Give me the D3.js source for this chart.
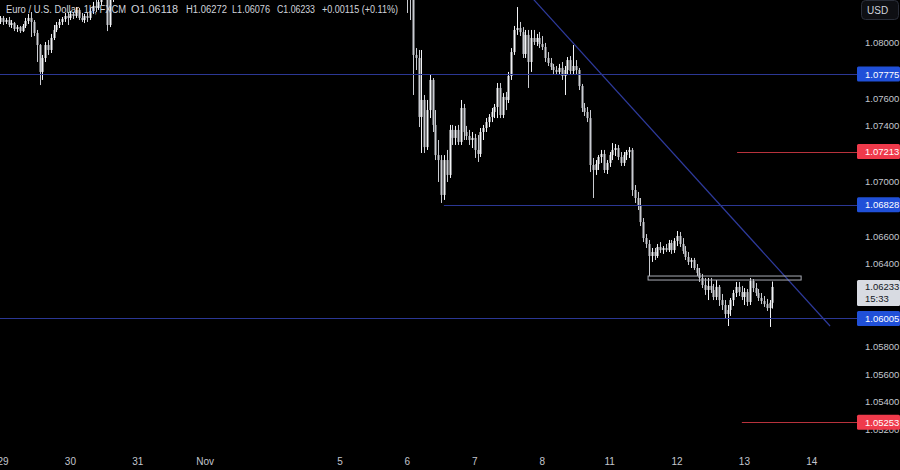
<!DOCTYPE html>
<html><head><meta charset="utf-8">
<script src="https://cdn.jsdelivr.net/npm/d3@7"></script>
<style>html,body{margin:0;padding:0;background:#000;}svg{display:block;}</style>
</head><body><svg id="c" width="900" height="470"></svg>
<script>
// ---------- DATA ----------
const dayLabels = ["29","30","31","Nov","5","6","7","8","11","12","13","14"];
const dayIndex  = [0,1,2,3,5,6,7,8,9,10,11,12];   // trading-day number (24 hourly bars each)
const priceTicks = [1.080,1.078,1.076,1.074,1.072,1.070,1.068,1.066,1.064,1.062,1.060,1.058,1.056,1.054,1.052];

// hourly candles [open, high, low, close]; first bar index of each block
const octStart = -1;
const octCandles = [
[1.08152,1.08195,1.08137,1.08181],[1.08181,1.08195,1.08130,1.08152],[1.08152,1.08181,1.08137,1.08166],
[1.08166,1.08188,1.08115,1.08130],[1.08130,1.08166,1.08108,1.08144],[1.08144,1.08152,1.08086,1.08101],
[1.08101,1.08130,1.08079,1.08115],[1.08115,1.08123,1.08072,1.08086],[1.08086,1.08137,1.08079,1.08123],
[1.08123,1.08181,1.08108,1.08159],[1.08159,1.08210,1.08137,1.08181],[1.08181,1.08224,1.08043,1.08152],
[1.08152,1.08166,1.08050,1.08072],[1.08072,1.08094,1.07862,1.07985],[1.07985,1.07992,1.07695,1.07790],
[1.07790,1.07913,1.07732,1.07891],[1.07891,1.08007,1.07862,1.07985],[1.07985,1.08021,1.07913,1.07949],
[1.07949,1.08065,1.07927,1.08036],[1.08036,1.08130,1.08021,1.08094],[1.08094,1.08152,1.08079,1.08130],
[1.08130,1.08173,1.08108,1.08152],[1.08152,1.08188,1.08130,1.08173],[1.08173,1.08217,1.08152,1.08195],
[1.08195,1.08224,1.08130,1.08181],[1.08181,1.08231,1.08166,1.08210],[1.08210,1.08224,1.08173,1.08195],
[1.08195,1.08260,1.08181,1.08239],[1.08239,1.08253,1.08166,1.08181],[1.08181,1.08217,1.08152,1.08166],
[1.08166,1.08210,1.08144,1.08195],[1.08195,1.08217,1.08152,1.08181],[1.08181,1.08253,1.08166,1.08231],
[1.08231,1.08297,1.08210,1.08268],[1.08268,1.08311,1.08224,1.08253],[1.08253,1.08347,1.08239,1.08297],
[1.08297,1.08383,1.08275,1.08347],[1.08347,1.08398,1.08311,1.08369],[1.08369,1.08398,1.08086,1.08130],
[1.08130,1.08383,1.08115,1.08347],[1.08347,1.08420,1.08297,1.08383]
];
const novStart = 144;
const novCandles = [
[1.08528,1.08601,1.08217,1.08383],[1.08383,1.08456,1.08166,1.08347],[1.08347,1.08383,1.07623,1.07913],
[1.07913,1.07963,1.07804,1.07891],[1.07891,1.07949,1.07391,1.07464],[1.07464,1.07949,1.07203,1.07587],
[1.07587,1.07623,1.07203,1.07246],[1.07246,1.07587,1.07225,1.07514],[1.07514,1.07768,1.07456,1.07732],
[1.07732,1.07746,1.07355,1.07406],[1.07406,1.07514,1.07152,1.07188],[1.07188,1.07297,1.06993,1.07152],
[1.07152,1.07188,1.06841,1.06899],[1.06899,1.07188,1.06863,1.07152],[1.07152,1.07225,1.06993,1.07044],
[1.07044,1.07406,1.07022,1.07370],[1.07370,1.07406,1.07261,1.07312],[1.07312,1.07399,1.07261,1.07370],
[1.07370,1.07406,1.07261,1.07283],[1.07283,1.07587,1.07261,1.07529],[1.07529,1.07558,1.07297,1.07355],
[1.07355,1.07399,1.07297,1.07326],[1.07326,1.07370,1.07261,1.07297],[1.07297,1.07355,1.07239,1.07312],
[1.07312,1.07341,1.07167,1.07225],[1.07225,1.07333,1.07138,1.07196],[1.07196,1.07384,1.07174,1.07355],
[1.07355,1.07406,1.07297,1.07384],[1.07384,1.07456,1.07355,1.07427],[1.07427,1.07485,1.07391,1.07464],
[1.07464,1.07529,1.07427,1.07500],[1.07500,1.07558,1.07456,1.07536],[1.07536,1.07710,1.07456,1.07674],
[1.07674,1.07710,1.07456,1.07478],[1.07478,1.07637,1.07456,1.07609],[1.07609,1.07645,1.07514,1.07587],
[1.07587,1.07790,1.07565,1.07761],[1.07761,1.07963,1.07732,1.07934],[1.07934,1.08123,1.07913,1.08094],
[1.08094,1.08260,1.08058,1.08108],[1.08108,1.08152,1.08050,1.08079],[1.08079,1.08115,1.07891,1.07920],
[1.07920,1.08094,1.07891,1.08058],[1.08058,1.08094,1.07674,1.07862],[1.07862,1.08094,1.07790,1.08036],
[1.08036,1.08094,1.07985,1.08007],[1.08007,1.08065,1.07978,1.08036],[1.08036,1.08079,1.07963,1.07992],
[1.07992,1.08050,1.07949,1.07971],[1.07971,1.08000,1.07862,1.07891],[1.07891,1.07934,1.07833,1.07855],
[1.07855,1.07891,1.07804,1.07826],[1.07826,1.07848,1.07775,1.07804],[1.07804,1.07833,1.07768,1.07790],
[1.07790,1.07848,1.07768,1.07819],[1.07819,1.07862,1.07732,1.07761],[1.07761,1.07833,1.07623,1.07804],
[1.07804,1.07898,1.07775,1.07876],[1.07876,1.07905,1.07775,1.07797],[1.07797,1.07985,1.07775,1.07833],
[1.07833,1.07876,1.07775,1.07804],[1.07804,1.07819,1.07659,1.07688],[1.07688,1.07703,1.07500,1.07529],
[1.07529,1.07565,1.07471,1.07500],[1.07500,1.07536,1.07427,1.07456],[1.07456,1.07514,1.07065,1.07116],
[1.07116,1.07167,1.06877,1.07080],[1.07080,1.07152,1.07044,1.07123],[1.07123,1.07188,1.07080,1.07174],
[1.07174,1.07225,1.07131,1.07196],[1.07196,1.07225,1.07058,1.07080],[1.07080,1.07152,1.07051,1.07131],
[1.07131,1.07210,1.07102,1.07188],[1.07188,1.07275,1.07152,1.07225],[1.07225,1.07268,1.07181,1.07239],
[1.07239,1.07261,1.07152,1.07174],[1.07174,1.07210,1.07109,1.07131],[1.07131,1.07210,1.07109,1.07188],
[1.07188,1.07225,1.07152,1.07210],[1.07210,1.07246,1.07167,1.07225],[1.07225,1.07239,1.06892,1.06935],
[1.06935,1.06971,1.06841,1.06877],[1.06877,1.06921,1.06790,1.06826],[1.06826,1.06877,1.06674,1.06703],
[1.06703,1.06732,1.06558,1.06587],[1.06587,1.06616,1.06515,1.06544],[1.06544,1.06573,1.06312,1.06457],
[1.06457,1.06515,1.06414,1.06486],[1.06486,1.06515,1.06428,1.06457],[1.06457,1.06544,1.06443,1.06522],
[1.06522,1.06558,1.06479,1.06500],[1.06500,1.06529,1.06472,1.06515],[1.06515,1.06544,1.06486,1.06500],
[1.06500,1.06573,1.06486,1.06551],[1.06551,1.06573,1.06472,1.06500],[1.06500,1.06587,1.06479,1.06566],
[1.06566,1.06638,1.06529,1.06602],[1.06602,1.06631,1.06522,1.06544],[1.06544,1.06587,1.06472,1.06493],
[1.06493,1.06529,1.06428,1.06450],[1.06450,1.06486,1.06392,1.06414],[1.06414,1.06443,1.06370,1.06428],
[1.06428,1.06443,1.06356,1.06370],[1.06370,1.06399,1.06312,1.06334],[1.06334,1.06370,1.06269,1.06298],
[1.06298,1.06327,1.06225,1.06247],[1.06247,1.06298,1.06175,1.06211],[1.06211,1.06298,1.06138,1.06240],
[1.06240,1.06298,1.06189,1.06211],[1.06211,1.06254,1.06138,1.06160],[1.06160,1.06283,1.06138,1.06233],
[1.06233,1.06247,1.06095,1.06138],[1.06138,1.06182,1.06066,1.06102],[1.06102,1.06138,1.06008,1.06037],
[1.06037,1.06102,1.05950,1.06066],[1.06066,1.06153,1.06023,1.06138],[1.06138,1.06211,1.06095,1.06189],
[1.06189,1.06269,1.06160,1.06233],[1.06233,1.06269,1.06167,1.06196],[1.06196,1.06240,1.06138,1.06160],
[1.06160,1.06225,1.06102,1.06196],[1.06196,1.06218,1.06095,1.06124],[1.06124,1.06298,1.06102,1.06276],
[1.06276,1.06290,1.06196,1.06225],[1.06225,1.06261,1.06167,1.06189],[1.06189,1.06218,1.06131,1.06153],
[1.06153,1.06189,1.06109,1.06131],[1.06131,1.06167,1.06088,1.06109],[1.06109,1.06146,1.06059,1.06080],
[1.06080,1.06138,1.05943,1.06118],[1.06118,1.06272,1.06076,1.06233]
];

// drawings
const blueLevels = [1.07775, 1.06828, 1.06005];
const blueLevelStart = [-3, 157, -3];
const redLevels = [1.07213, 1.05253];
const redLevelStart = [261.4, 263.1];
const trendLine = [[185, 1.08403], [294.5, 1.05950]];
const zoneBars = [229.7, 284.2];
const zonePrices = [1.06312, 1.06283];
const lastPrice = 1.06233;
const countdown = "15:33";
const headerName = "Euro / U.S. Dollar, 1h, FXCM";
const headerFields = ["O1.06118","H1.06272","L1.06076","C1.06233","+0.00115 (+0.11%)"];

// ---------- LAYOUT ----------
const W = 900, H = 470, plotR = 856, plotB = 450;
const svg = d3.select("#c");
svg.append("rect").attr("width",W).attr("height",H).attr("fill","#000");

const x = d3.scaleLinear().domain([0, 288]).range([3, 3 + 288*2.8083]);
const y = d3.scaleLinear().domain([1.05052, 1.08311]).range([plotB, 0]);

svg.append("clipPath").attr("id","plot").append("rect").attr("x",0).attr("y",0).attr("width",plotR).attr("height",plotB);
const g = svg.append("g").attr("clip-path","url(#plot)");

// candles
const bars = [];
octCandles.forEach((c,i)=>bars.push({i:octStart+i,o:c[0],h:c[1],l:c[2],c:c[3]}));
novCandles.forEach((c,i)=>bars.push({i:novStart+i,o:c[0],h:c[1],l:c[2],c:c[3]}));
const upCol = "#f2f3f6", dnCol = "#c9cbd1";
const cg = g.append("g");
cg.selectAll("line.w").data(bars).join("line")
  .attr("x1",d=>Math.round(x(d.i))+0.5).attr("x2",d=>Math.round(x(d.i))+0.5)
  .attr("y1",d=>y(d.h)).attr("y2",d=>y(d.l))
  .attr("stroke",d=>d.c>=d.o?upCol:dnCol).attr("stroke-width",1);
cg.selectAll("rect.b").data(bars).join("rect")
  .attr("x",d=>Math.round(x(d.i))-0.5).attr("width",2)
  .attr("y",d=>y(Math.max(d.o,d.c))).attr("height",d=>Math.max(1,Math.abs(y(d.o)-y(d.c))))
  .attr("fill",d=>d.c>=d.o?upCol:dnCol);

// horizontal levels
const lg = svg.append("g");
blueLevels.forEach((p,k)=>{
  lg.append("line").attr("x1",Math.max(0,x(blueLevelStart[k]))).attr("x2",plotR+2)
    .attr("y1",Math.round(y(p))+0.5).attr("y2",Math.round(y(p))+0.5)
    .attr("stroke","#2b3794").attr("stroke-width",1);
});
redLevels.forEach((p,k)=>{
  lg.append("line").attr("x1",x(redLevelStart[k])).attr("x2",plotR+2)
    .attr("y1",Math.round(y(p))+0.5).attr("y2",Math.round(y(p))+0.5)
    .attr("stroke","#b8323c").attr("stroke-width",1);
});
// trend line
g.append("line").attr("x1",x(trendLine[0][0])).attr("y1",y(trendLine[0][1]))
  .attr("x2",x(trendLine[1][0])).attr("y2",y(trendLine[1][1]))
  .attr("stroke","#2e3a9c").attr("stroke-width",1.2);
// resistance zone
g.append("rect").attr("x",x(zoneBars[0])).attr("y",y(zonePrices[0]))
  .attr("width",x(zoneBars[1])-x(zoneBars[0])).attr("height",y(zonePrices[1])-y(zonePrices[0]))
  .attr("fill","none").attr("stroke","#a9acb5").attr("stroke-width",1);

// ---------- PRICE AXIS ----------
const font = "'Liberation Sans', Arial, sans-serif";
const fmt = d3.format(".5f");
const ax = svg.append("g");
const tagged = blueLevels.concat([lastPrice, redLevels[0]]);
priceTicks.forEach(p=>{
  // labels fully hidden behind a price tag are not drawn (TradingView hides them)
  if (tagged.some(t=>Math.abs(y(t)-y(p))<9)) return;
  ax.append("text").attr("x",865).attr("y",y(p)+3.5).text(fmt(p))
    .attr("fill","#c3c6ce").attr("font-family",font).attr("font-size",9.5);
});
function tag(p, bg, fg){
  const yy = y(p);
  ax.append("rect").attr("x",857).attr("y",yy-7.5).attr("width",43).attr("height",15).attr("rx",1.5).attr("fill",bg);
  ax.append("text").attr("x",865).attr("y",yy+3.5).text(fmt(p))
    .attr("fill",fg).attr("font-family",font).attr("font-size",9.5);
}
blueLevels.forEach(p=>tag(p,"#2050d8","#ffffff"));
redLevels.forEach(p=>tag(p,"#ef3a4b","#ffffff"));
// last price box
{
  const yy = y(lastPrice);
  ax.append("rect").attr("x",857).attr("y",yy-7).attr("width",43).attr("height",26).attr("rx",1.5).attr("fill","#d8dbe2");
  ax.append("text").attr("x",865).attr("y",yy+3.5).text(fmt(lastPrice))
    .attr("fill","#131722").attr("font-family",font).attr("font-size",9.5);
  ax.append("text").attr("x",865).attr("y",yy+15).text(countdown)
    .attr("fill","#131722").attr("font-family",font).attr("font-size",9.5);
}
// currency button
ax.append("rect").attr("x",861.5).attr("y",0.5).attr("width",37).attr("height",19).attr("rx",4)
  .attr("fill","#0e0f13").attr("stroke","#2a2e39");
ax.append("text").attr("x",867).attr("y",13.5).text("USD").attr("fill","#d1d4dc")
  .attr("font-family",font).attr("font-size",10);

// ---------- TIME AXIS ----------
const tx = svg.append("g");
dayLabels.forEach((t,k)=>{
  tx.append("text").attr("x",x(dayIndex[k]*24)).attr("y",465).attr("text-anchor","middle")
    .text(t).attr("fill","#c3c6ce").attr("font-family",font).attr("font-size",10);
});

// ---------- HEADER ----------
const hd = svg.append("g").attr("font-family",font).attr("font-size",10).attr("fill","#d1d4dc");
hd.append("text").attr("x",6).attr("y",13).text(headerName).attr("textLength",120).attr("lengthAdjust","spacingAndGlyphs");
const hx = [131,186,232,277,322], hl = [47,41,38,38,76];
headerFields.forEach((t,k)=>{
  hd.append("text").attr("x",hx[k]).attr("y",13).text(t).attr("textLength",hl[k]).attr("lengthAdjust","spacingAndGlyphs");
});
</script></body></html>
